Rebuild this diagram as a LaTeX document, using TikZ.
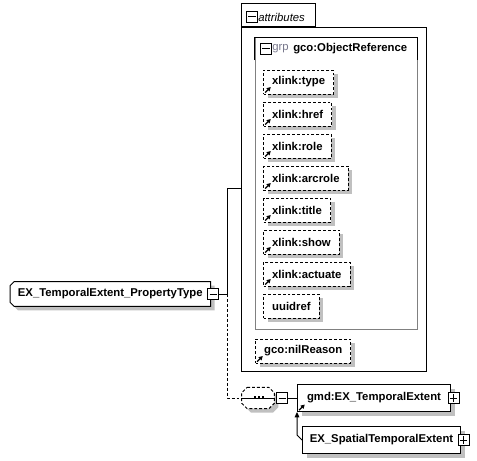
\documentclass[tikz,border=0pt]{standalone}
\usepackage{fontspec}
\setmainfont{Liberation Sans}
\usetikzlibrary{arrows.meta,positioning,shadows,backgrounds,calc}
\definecolor{xgray}{RGB}{128,128,128}
\definecolor{xshade}{RGB}{192,192,192}
\definecolor{xgrp}{RGB}{120,120,140}
\tikzset{
  lbl/.style   ={font=\fontsize{8.5}{10}\selectfont\bfseries},
  grayshadow/.style={drop shadow={shadow xshift=3pt, shadow yshift=-3pt, opacity=1, fill=xshade}},
  attr/.style  ={rectangle, draw, dash pattern=on 2.2pt off 1.5pt, fill=white, lbl, grayshadow,
                 minimum height=18pt, inner xsep=6.5pt, inner ysep=0pt, line width=0.75pt},
  elem/.style  ={rectangle, draw, fill=white, lbl, grayshadow, minimum height=20.25pt,
                 inner sep=0pt, line width=0.75pt},
  frame/.style ={rectangle, draw, inner sep=0pt, line width=0.75pt},
  btn/.style   ={rectangle, draw, fill=white, minimum size=8pt, inner sep=0pt, line width=0.75pt},
  wire/.style  ={draw, line width=0.75pt},
  dashwire/.style={wire, dash pattern=on 2.2pt off 1.5pt}
}
\newcommand\minusbtn[2]{\node[btn] (#1) at (#2) {};
  \draw[wire] ([xshift=1.6pt]#1.west) -- ([xshift=-1.6pt]#1.east);}
\newcommand\plusbtn[2]{\node[btn] (#1) at (#2) {};
  \draw[wire] ([xshift=1.6pt]#1.west) -- ([xshift=-1.6pt]#1.east);
  \draw[wire] ([yshift=1.6pt]#1.south) -- ([yshift=-1.6pt]#1.north);}
\newcommand\reflink[1]{\draw[-{Triangle[length=3pt,width=3.2pt]}, line width=1pt]
  ([shift={(1.6pt,1.4pt)}]#1.south west) -- ++(4.2pt,4.2pt);}
% left-chamfered outline of a node (#1 node, #2 cut, #3 offset)
\newcommand\leftcut[3]{([shift={(#2,0)},shift={(#3)}]#1.north west) -- ([shift={(#3)}]#1.north east)
  -- ([shift={(#3)}]#1.south east) -- ([shift={(#2,0)},shift={(#3)}]#1.south west)
  -- ([shift={(0,#2)},shift={(#3)}]#1.south west) -- ([shift={(0,-#2)},shift={(#3)}]#1.north west)
  -- cycle}
% all-chamfered outline
\newcommand\allcut[3]{([shift={(#2,0)},shift={(#3)}]#1.north west)
  -- ([shift={(-#2,0)},shift={(#3)}]#1.north east) -- ([shift={(0,-#2)},shift={(#3)}]#1.north east)
  -- ([shift={(0,#2)},shift={(#3)}]#1.south east) -- ([shift={(-#2,0)},shift={(#3)}]#1.south east)
  -- ([shift={(#2,0)},shift={(#3)}]#1.south west) -- ([shift={(0,#2)},shift={(#3)}]#1.south west)
  -- ([shift={(0,-#2)},shift={(#3)}]#1.north west) -- cycle}

\begin{document}
\begin{tikzpicture}[x=0.75pt, y=-0.75pt]
\useasboundingbox (0,0) rectangle (477,460);
% attributes container
\node[frame, minimum width=138.75pt, minimum height=257.25pt] (attrs) at (333.5,199.5) {};
\node[frame, anchor=south west, minimum width=55.5pt, minimum height=17.25pt] (attrtab) at (attrs.north west) {};
\minusbtn{tabbtn}{252,17}
\node[anchor=west, font=\fontsize{8.5}{10}\selectfont\itshape, inner sep=0pt] (tablbl) at (258,17) {attributes};
% attribute group
\node[frame, draw=xgray, minimum width=121.5pt, minimum height=218.25pt] (grp) at (336,183.5) {};
\draw[wire] ([yshift=-17pt]grp.north west) |- (grp.north east) -- ++(0,-17pt);
\minusbtn{grpbtn}{266,49}
\node[anchor=west, inner sep=0pt, text=xgrp, font=\fontsize{8.5}{10}\selectfont] (grptag) at (272,49) {grp};
\node[anchor=west, inner sep=0pt, lbl] (grpname) at (293,49) {gco:ObjectReference};
% attributes
\foreach \nm/\txt/\yy in {type/xlink:type/82, href/xlink:href/114, role/xlink:role/146,
    arcrole/xlink:arcrole/178, title/xlink:title/210, show/xlink:show/242,
    actuate/xlink:actuate/274}{
  \node[attr, anchor=west] (\nm) at (263,\yy) {\txt};
  \reflink{\nm}
}
\node[attr, anchor=west] (uuid) at (263,306) {uuidref};
\node[attr, anchor=west] (nil) at (255,351) {gco:nilReason};
\reflink{nil}
% property type
\node[lbl, anchor=west, minimum width=150pt, minimum height=18pt, inner sep=0pt] (prop) at (10,294)
  {EX\_TemporalExtent\_PropertyType};
\begin{scope}[on background layer]
  \fill[xshade] \leftcut{prop}{3pt}{3pt,-3pt};
  \filldraw[wire, fill=white] \leftcut{prop}{3pt}{0pt,0pt};
\end{scope}
\minusbtn{propbtn}{[xshift=2pt]prop.east}
\coordinate (fork) at ([xshift=6pt]propbtn.east);
\draw[wire] (propbtn.east) -- (fork) |- ([yshift=8pt]attrs.west);
% sequence
\node[minimum width=24pt, minimum height=15.5pt, inner sep=0pt] (seq) at (258,398) {};
\begin{scope}[on background layer]
  \fill[xshade] \allcut{seq}{4pt}{3pt,-3pt};
  \filldraw[dashwire, fill=white] \allcut{seq}{4pt}{0pt,0pt};
\end{scope}
\draw[wire] (seq.west) -- (seq.east);
\foreach \dx in {-3,0,3} \fill ([xshift=\dx pt]seq.center) rectangle ++(1.6pt,1.6pt);
\draw[dashwire] (fork) |- (seq.west);
\minusbtn{seqbtn}{[xshift=6pt]seq.east}
% elements
\node[elem, minimum width=114.75pt, anchor=west] (tmp) at (297,398) {gmd:EX\_TemporalExtent};
\reflink{tmp}
\plusbtn{tmpbtn}{[xshift=2pt]tmp.east}
\draw[wire] (seqbtn) -- (tmp);
\node[elem, minimum width=118.5pt, anchor=west] (spat) at (302,440) {EX\_SpatialTemporalExtent};
\plusbtn{spatbtn}{[xshift=2pt]spat.east}
\draw[wire, -{Triangle[length=4pt,width=3.5pt]}] (spat.west) -- ++(-5,-5) -- (tmp.south west);
\end{tikzpicture}
\end{document}
